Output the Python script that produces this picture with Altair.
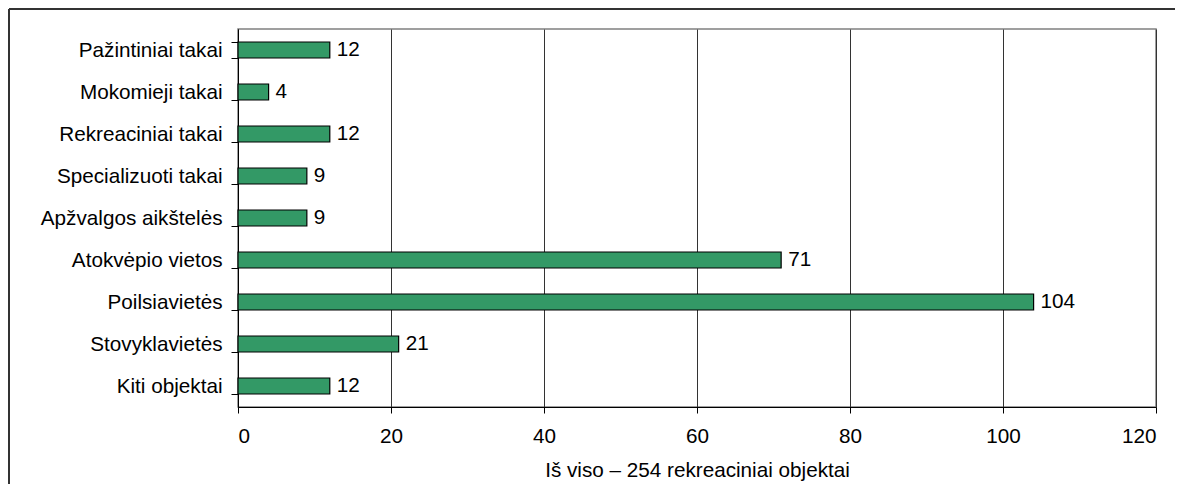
import altair as alt
import pandas as pd

categories = ["Pažintiniai takai", "Mokomieji takai", "Rekreaciniai takai",
              "Specializuoti takai", "Apžvalgos aikštelės", "Atokvėpio vietos",
              "Poilsiavietės", "Stovyklavietės", "Kiti objektai"]
values = [12, 4, 12, 9, 9, 71, 104, 21, 12]
x_ticks = [0, 20, 40, 60, 80, 100, 120]
x_title = "Iš viso – 254 rekreaciniai objektai"

df = pd.DataFrame({"cat": categories, "val": values})
FONT = "Liberation Sans"
FS = 20.7

base = alt.Chart(df)

bars = base.mark_bar(color="#339966", stroke="#000000", strokeWidth=1.2).encode(
    x=alt.X("val:Q", scale=alt.Scale(domain=[0, 120], nice=False),
            axis=alt.Axis(values=x_ticks, title=x_title, grid=True, gridColor="#333333",
                          gridWidth=1, domainColor="#000000", tickColor="#000000",
                          tickSize=6, labelPadding=13, titlePadding=15,
                          labelFontSize=FS, titleFontSize=FS, labelColor="#000000",
                          titleColor="#000000", titleFontWeight="normal",
                          labelFont=FONT, titleFont=FONT)),
    y=alt.Y("cat:N", sort=categories,
            scale=alt.Scale(paddingInner=0.62, paddingOuter=0.31),
            axis=alt.Axis(title=None, tickBand="extent", tickSize=7, tickColor="#000000",
                          domainColor="#000000", labelPadding=9, labelFontSize=FS,
                          labelLimit=400,
                          labelColor="#000000", labelFont=FONT, grid=False)),
)

labels = base.mark_text(align="left", baseline="middle", dx=7, fontSize=FS,
                        font=FONT, color="#000000").encode(
    x="val:Q", y=alt.Y("cat:N", sort=categories), text="val:Q")

frame_left = alt.Chart(pd.DataFrame({"k": [0]})).mark_rule(color="#333333", strokeWidth=2).encode(
    x=alt.value(-229), y=alt.value(-20), y2=alt.value(480))
frame_top = alt.Chart(pd.DataFrame({"k": [0]})).mark_rule(color="#333333", strokeWidth=2).encode(
    x=alt.value(-229), x2=alt.value(937), y=alt.value(-20))

chart = alt.layer(bars, labels, frame_left, frame_top).properties(
    width=918, height=378,
    autosize=alt.AutoSizeParams(type="none"),
    padding={"left": 230, "top": 21, "right": 19, "bottom": 77},
    background="#ffffff",
).configure_view(stroke="#808080", strokeWidth=1.5)

chart.save("out.html", embed_options={"renderer": "svg", "actions": False})
